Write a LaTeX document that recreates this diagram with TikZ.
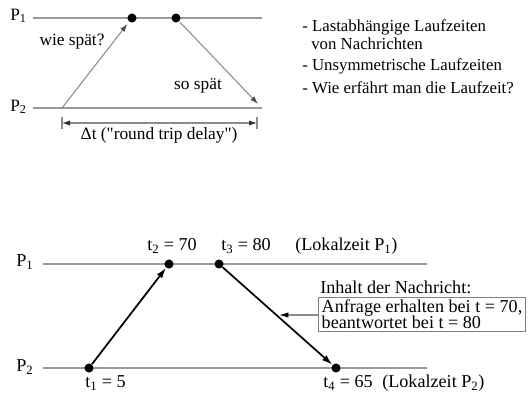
\documentclass[tikz,border=0pt]{standalone}
\usepackage{fontspec}
\setmainfont{Liberation Serif}[Ligatures=TeXOff]
\usetikzlibrary{arrows.meta}
\begin{document}
\begin{tikzpicture}[x=0.75pt,y=-0.75pt,
  txt/.style={font=\fontsize{13}{13}\selectfont, inner sep=0pt},
  note/.style={font=\fontsize{12.6}{12.6}\selectfont, inner sep=0pt},
  big/.style={font=\fontsize{13.6}{13.6}\selectfont, inner sep=0pt},
  proc/.style={draw=black!40, line width=0.9pt},
  ev/.style={circle, fill=black, minimum size=6.8pt, inner sep=0pt},
  grayarr/.style={draw=black!45, line width=0.8pt, -{Latex[length=6pt,width=4pt,black!70]}},
  msg/.style={draw=black, line width=1.3pt, -{Latex[length=8pt,width=5pt]}},
  dim/.style={draw=black!45, line width=0.8pt, {Latex[length=6pt,width=4pt,black!80]}-{Latex[length=6pt,width=4pt,black!80]}},
  ptr/.style={draw=black!45, line width=0.8pt, -{Latex[length=7pt,width=4pt,black]}}]
\useasboundingbox (0,0) rectangle (530,393);

% ---- upper sketch: round trip ----
\node[txt, anchor=west] (a1) at (10,16) {P\textsubscript{1}};
\node[txt, anchor=west] (a2) at (10,107) {P\textsubscript{2}};
\coordinate (a1s) at (33,18);  \coordinate (a1e) at (262,18);
\coordinate (a2s) at (33,108); \coordinate (a2e) at (262,108);
\draw[proc] (a1s) -- (a1e);
\draw[proc] (a2s) -- (a2e);
\node[ev] (b) at (132,18) {};
\node[ev] (c) at (176,18) {};
\coordinate (send) at (62,108);
\coordinate (recv) at (258,104);
\draw[grayarr, shorten >=2pt] (send) -- (b);
\draw[grayarr, shorten <=1pt] (c) -- (recv);
\node[txt] (q) at (72,42) {wie spät?};
\node[txt] (r) at (198,86) {so spät};
% delay span
\coordinate (d1) at (62,123); \coordinate (d2) at (257,123);
\draw[draw=black!45, line width=0.8pt] (62,117) -- (62,129) (257,117) -- (257,129);
\draw[dim] (d1) -- (d2);
\node[txt] (dl) at (159,135) {Δt ("round trip delay")};

% ---- remarks ----
\node[note, anchor=west] (rm1) at (302,27) {- Lastabhängige Laufzeiten};
\node[note, anchor=west] (rm2) at (311,44) {von Nachrichten};
\node[note, anchor=west] (rm3) at (302,66) {- Unsymmetrische Laufzeiten};
\node[note, anchor=west] (rm4) at (302,88) {- Wie erfährt man die Laufzeit?};

% ---- lower sketch: timestamps ----
\node[big, anchor=west] (p1) at (16,262) {P\textsubscript{1}};
\node[big, anchor=west] (p2) at (16,367) {P\textsubscript{2}};
\coordinate (p1s) at (43,264);  \coordinate (p1e) at (427,264);
\coordinate (p2s) at (43,368);  \coordinate (p2e) at (427,368);
\draw[proc] (p1s) -- (p1e);
\draw[proc] (p2s) -- (p2e);
\node[ev] (t1) at (89,368) {};
\node[ev] (t2) at (169,264) {};
\node[ev] (t3) at (219,264) {};
\node[ev] (t4) at (336,368) {};
\draw[msg] (t1) -- (t2);
\draw[msg] (t3) -- (t4);
\node[big, anchor=west] (l1) at (85,383) {t\textsubscript{1} = 5};
\node[big] (l2) at (172,246) {t\textsubscript{2} = 70};
\node[big] (l3) at (246,246) {t\textsubscript{3} = 80};
\node[big, anchor=west] (l4) at (323,383) {t\textsubscript{4} = 65};
\node[big, anchor=west] (lz1) at (295,246) {(Lokalzeit P\textsubscript{1})};
\node[big, anchor=west] (lz2) at (382,383) {(Lokalzeit P\textsubscript{2})};
\node[big, anchor=west] (ih) at (320,287) {Inhalt der Nachricht:};
\node[big, draw=black!50, line width=0.6pt, anchor=north west, align=left,
      inner xsep=2.5pt, inner ysep=1.5pt] (box) at (318,297)
  {Anfrage erhalten bei t = 70,\\[-1pt]beantwortet bei t = 80};
\coordinate (hit) at (279,315);
\draw[ptr] (box.west |- hit) -- (hit);
\end{tikzpicture}
\end{document}
